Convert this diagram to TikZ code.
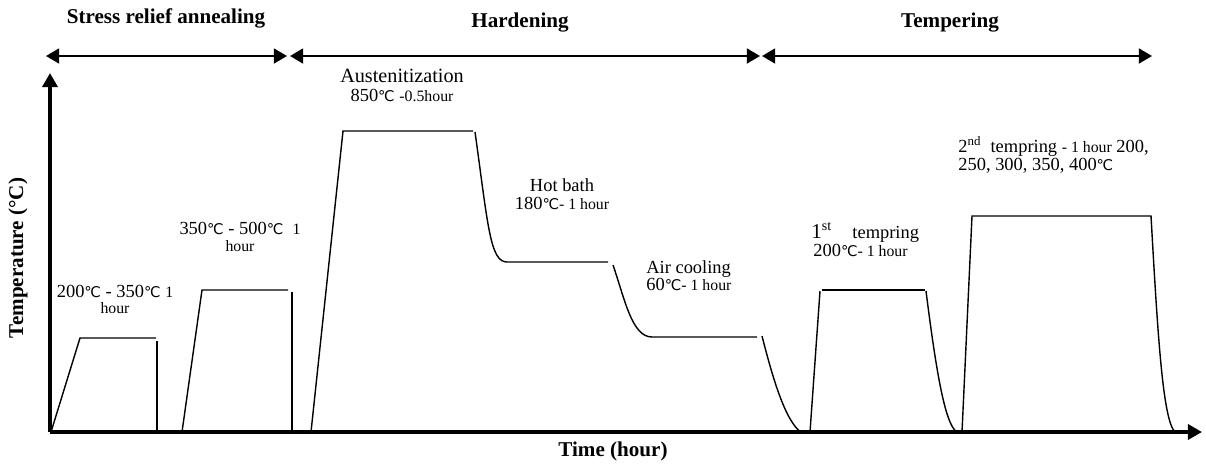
\documentclass[tikz,border=0pt]{standalone}
\usepackage{fontspec, graphicx}
\setmainfont{Liberation Serif}
\newfontfamily\dcfont{DejaVu Sans}
\usetikzlibrary{arrows.meta}
\newcommand{\dc}{{\dcfont\scalebox{0.8}{℃}}}
\newcommand{\lab}{\fontsize{10.5}{10.5}\selectfont}
\newcommand{\sml}{\fontsize{9}{9}\selectfont}
\newcommand{\ttl}{\fontsize{12}{14}\selectfont\bfseries}

\begin{document}
\begin{tikzpicture}[x=0.02cm, y=-0.02cm,
  axis/.style={line width=2pt, -{Triangle[length=8pt,width=8.5pt]}},
  phase/.style={line width=1.2pt, {Triangle[length=7.5pt,width=8.5pt]}-{Triangle[length=7.5pt,width=8.5pt]}},
  cycle line/.style={line width=0.8pt},
  title/.style={anchor=base, font=\ttl, inner sep=0pt},
  tag/.style={anchor=base, font=\lab, inner sep=0pt}]
\useasboundingbox (0,0) rectangle (1206,464);

\coordinate (o) at (50,432);
\coordinate (ytop) at (50,73);
\coordinate (xend) at (1202,432);
\coordinate (sra-l) at (46,56);
\coordinate (sra-r) at (287,56);
\coordinate (hrd-l) at (290,56);
\coordinate (hrd-r) at (760,56);
\coordinate (tmp-l) at (762,56);
\coordinate (tmp-r) at (1152,56);

\draw[phase] (sra-l) -- (sra-r);
\draw[phase] (hrd-l) -- (hrd-r);
\draw[phase] (tmp-l) -- (tmp-r);
\node[title] (sra) at (166,23) {Stress relief annealing};
\node[title] (hrd) at (520,27) {Hardening};
\node[title] (tmp) at (950,27) {Tempering};

\draw[cycle line] (51,432) -- (80,338) -- (156,338);
\draw[cycle line] (157,341) -- (157,432);
\draw[cycle line] (182,432) -- (202,290) -- (288,290);
\draw[cycle line] (292,292) -- (292,432);

\draw[cycle line] (311,432) -- (343,131) -- (473,131);
\draw[cycle line] (475,132) .. controls (488,225) and (490,262) .. (507,262) -- (608,262);
\draw[cycle line] (613,265) .. controls (625,300) and (632,337) .. (652,337) -- (757,337);
\draw[cycle line] (762,336) .. controls (772,375) and (785,422) .. (802,433);

\draw[cycle line] (810,432) -- (820,291);
\draw[cycle line] (822,290) -- (925,290);
\draw[cycle line] (926,291) .. controls (936,370) and (945,425) .. (957,432);
\draw[cycle line] (962,432) -- (972,216) -- (1151,216)
  .. controls (1158,340) and (1163,420) .. (1175,432);

\draw[axis] (o) -- (ytop);
\draw[axis] (o) -- (xend);

\node[tag] (sr1) at (115,297) {200\dc{} - 350\dc{} {\sml 1}};
\node[tag] (sr1h) at (115,313) {\sml hour};
\node[tag] (sr2) at (240,234) {350\dc{} - 500\dc{}\ \ {\sml 1}};
\node[tag] (sr2h) at (240,251) {\sml hour};
\node[tag, font=\fontsize{11.5}{12}\selectfont] (aus) at (402,82) {Austenitization};
\node[tag] (aust) at (402,101) {850\dc{} {\sml -0.5hour}};
\node[tag] (hot) at (562,191) {Hot bath};
\node[tag] (hott) at (562,209) {180\dc{}{\sml - 1 hour}};
\node[tag, anchor=base west] (air) at (646,273) {Air cooling};
\node[tag, anchor=base west] (airt) at (646,290) {60\dc{}{\sml - 1 hour}};
\node[tag, anchor=base west] (tp1) at (811,238) {{\fontsize{12}{12}\selectfont 1\textsuperscript{st}}\hspace{1.1em}tempring};
\node[tag, anchor=base west] (tp1t) at (813,256) {200\dc{}{\sml - 1 hour}};
\node[tag, anchor=base west] (tp2) at (958,152) {2\textsuperscript{nd}\hspace{0.5em}tempring {\sml - 1 hour} 200,};
\node[tag, anchor=base west] (tp2t) at (958,170) {250, 300, 350, 400\dc{}};

\node[font=\ttl, rotate=90] (ylab) at (18,258) {Temperature (°C)};
\node[title] (xlab) at (613,456) {Time (hour)};
\end{tikzpicture}
\end{document}
